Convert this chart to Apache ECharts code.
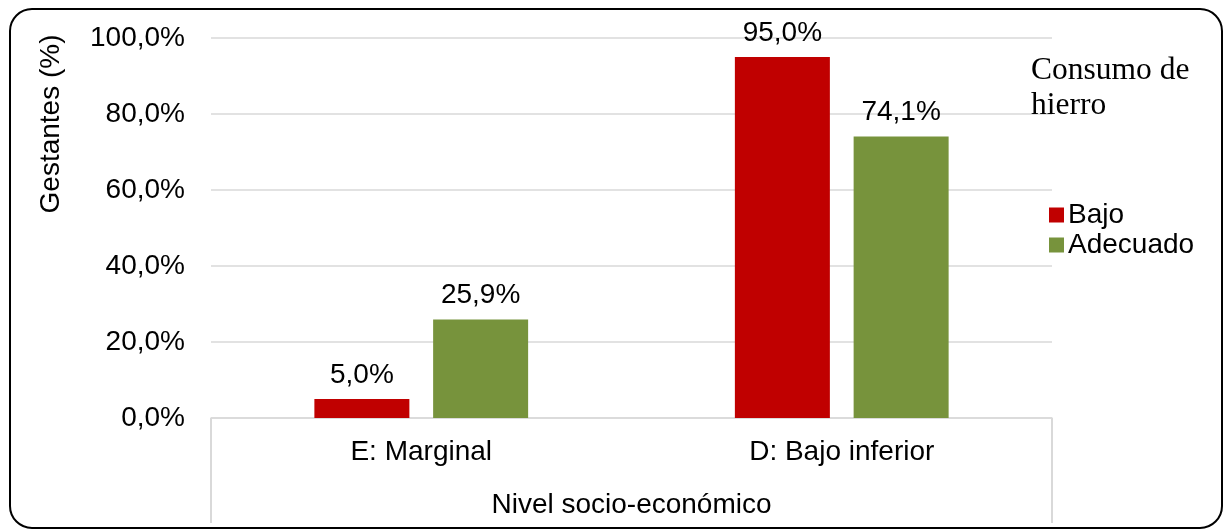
<!DOCTYPE html>
<html>
<head>
<meta charset="utf-8">
<style>
  html, body { margin: 0; padding: 0; background: #fff; }
  #chart { width: 1223px; height: 530px; }
</style>
<script src="https://cdn.jsdelivr.net/npm/echarts@6/dist/echarts.min.js"></script>
</head>
<body>
<div id="chart"></div>
<script>
// Nivel socio-económico (categorías del eje X)
const categories = ['E: Marginal', 'D: Bajo inferior'];
// Porcentaje de gestantes según consumo de hierro
const bajo = [5.0, 95.0];
const adecuado = [25.9, 74.1];
// Marcas del eje Y
const yTicks = [0, 20, 40, 60, 80, 100];

const fmt = v => v.toFixed(1).replace('.', ',') + '%';
const sans = 'Liberation Sans, Arial, sans-serif';
const gridColor = '#d9d9d9';
const fs = 28;

const chart = echarts.init(document.getElementById('chart'), null, { renderer: 'canvas' });

chart.setOption({
  backgroundColor: '#fff',
  animation: false,
  textStyle: { fontFamily: sans, color: '#000' },
  title: {
    text: 'Consumo de\nhierro',
    left: 1026,
    top: 48,
    textStyle: {
      fontFamily: 'Liberation Serif, Times New Roman, serif',
      fontSize: 31.5,
      lineHeight: 35,
      fontWeight: 'normal',
      color: '#000'
    }
  },
  legend: {
    orient: 'vertical',
    left: 1044,
    top: 196,
    itemWidth: 15,
    itemHeight: 15,
    itemGap: 2,
    icon: 'rect',
    textStyle: { fontFamily: sans, fontSize: fs, color: '#000', padding: [0, 0, 0, -1] },
    data: ['Bajo', 'Adecuado']
  },
  grid: { left: 211, right: 171, top: 38, bottom: 112 },
  graphic: [{
    type: 'rect',
    shape: { x: 10, y: 9, width: 1212, height: 519, r: 22 },
    style: { fill: 'none', stroke: '#000', lineWidth: 2 },
    silent: true,
    z: 100
  }],
  xAxis: [{
    type: 'category',
    data: categories,
    axisLine: { show: true, lineStyle: { color: gridColor, width: 1.5 } },
    axisTick: { show: false },
    axisLabel: { fontSize: fs, color: '#000', margin: 20 },
    name: 'Nivel socio-económico',
    nameLocation: 'middle',
    nameGap: 73,
    nameTextStyle: { fontSize: fs, color: '#000' }
  }, {
    // Eje auxiliar que dibuja las líneas verticales de la tabla bajo el eje
    type: 'category',
    position: 'bottom',
    data: ['grupo'],
    axisLine: { show: false },
    axisTick: { show: true, length: 105, lineStyle: { color: gridColor, width: 2 } },
    axisLabel: { show: false }
  }],
  yAxis: {
    type: 'value',
    min: yTicks[0],
    max: yTicks[yTicks.length - 1],
    interval: yTicks[1] - yTicks[0],
    axisLine: { show: false },
    axisTick: { show: false },
    splitLine: { lineStyle: { color: gridColor, width: 1.5 } },
    axisLabel: { fontSize: fs, color: '#000', margin: 26, formatter: v => fmt(v) },
    name: 'Gestantes (%)',
    nameLocation: 'middle',
    nameGap: 146,
    nameTextStyle: { fontSize: fs, color: '#000', padding: [0, 0, 0, 208] }
  },
  series: [{
    name: 'Bajo',
    type: 'bar',
    data: bajo,
    barWidth: 95,
    barGap: '25%',
    itemStyle: { color: '#C00000' },
    label: { show: true, position: 'top', distance: 10, fontSize: fs, color: '#000', formatter: p => fmt(p.value) }
  }, {
    name: 'Adecuado',
    type: 'bar',
    data: adecuado,
    barWidth: 95,
    barGap: '25%',
    itemStyle: { color: '#77933C' },
    label: { show: true, position: 'top', distance: 10, fontSize: fs, color: '#000', formatter: p => fmt(p.value) }
  }]
});
</script>
</body>
</html>
